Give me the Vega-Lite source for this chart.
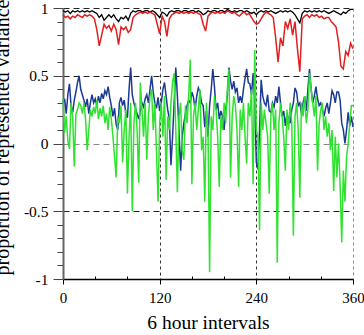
{
"$schema": "https://vega.github.io/schema/vega-lite/v6.json",
"width": 290, "height": 271,
"autosize": "none",
"padding": {"left": 63, "top": 8, "right": 11, "bottom": 56},
"config": {"view": {"stroke": null}, "font": "Liberation Serif"},
"datasets": {
"blue": [
{"x":0,"y":0.30},{"x":2,"y":0.33},{"x":4,"y":0.22},{"x":6,"y":0.36},{"x":8,"y":0.44},{"x":10,"y":0.28},{"x":12,"y":0.23},{"x":14,"y":0.32},{"x":16,"y":0.38},{"x":18,"y":0.45},
{"x":20,"y":0.50},{"x":22,"y":0.40},{"x":24,"y":0.36},{"x":26,"y":0.32},{"x":28,"y":0.27},{"x":30,"y":0.33},{"x":32,"y":0.22},{"x":34,"y":0.30},{"x":36,"y":0.36},{"x":38,"y":0.30},
{"x":40,"y":0.33},{"x":42,"y":0.28},{"x":44,"y":0.35},{"x":46,"y":0.30},{"x":48,"y":0.37},{"x":50,"y":0.33},{"x":52,"y":0.39},{"x":54,"y":0.36},{"x":56,"y":0.42},{"x":58,"y":0.34},
{"x":60,"y":0.28},{"x":62,"y":0.20},{"x":64,"y":0.26},{"x":66,"y":0.14},{"x":68,"y":0.10},{"x":70,"y":0.30},{"x":72,"y":0.34},{"x":74,"y":0.28},{"x":76,"y":0.32},{"x":78,"y":0.22},
{"x":80,"y":0.19},{"x":82,"y":0.40},{"x":84,"y":0.56},{"x":86,"y":0.36},{"x":88,"y":0.30},{"x":90,"y":0.26},{"x":92,"y":0.22},{"x":94,"y":0.18},{"x":96,"y":0.24},{"x":98,"y":0.30},
{"x":100,"y":0.27},{"x":102,"y":0.33},{"x":104,"y":0.36},{"x":106,"y":0.30},{"x":108,"y":0.40},{"x":110,"y":0.50},{"x":112,"y":0.38},{"x":114,"y":0.30},{"x":116,"y":0.26},{"x":118,"y":0.34},
{"x":120,"y":0.24},{"x":122,"y":0.30},{"x":124,"y":0.40},{"x":126,"y":0.45},{"x":128,"y":0.35},{"x":130,"y":0.25},{"x":132,"y":0.18},{"x":134,"y":-0.16},{"x":136,"y":0.05},{"x":138,"y":0.30},
{"x":140,"y":0.56},{"x":142,"y":0.35},{"x":144,"y":0.10},{"x":146,"y":-0.20},{"x":148,"y":0.05},{"x":150,"y":0.15},{"x":152,"y":0.22},{"x":154,"y":0.28},{"x":156,"y":0.32},{"x":158,"y":0.30},
{"x":160,"y":0.38},{"x":162,"y":0.34},{"x":164,"y":0.25},{"x":166,"y":0.35},{"x":168,"y":0.41},{"x":170,"y":0.38},{"x":172,"y":0.30},{"x":174,"y":0.28},{"x":176,"y":0.12},{"x":178,"y":0.24},
{"x":180,"y":0.05},{"x":182,"y":0.28},{"x":184,"y":0.40},{"x":186,"y":0.55},{"x":188,"y":0.42},{"x":190,"y":0.25},{"x":192,"y":0.30},{"x":194,"y":0.18},{"x":196,"y":0.24},{"x":198,"y":0.20},
{"x":200,"y":0.10},{"x":202,"y":0.25},{"x":204,"y":0.35},{"x":206,"y":0.56},{"x":208,"y":0.46},{"x":210,"y":0.40},{"x":212,"y":0.46},{"x":214,"y":0.38},{"x":216,"y":0.41},{"x":218,"y":0.30},
{"x":220,"y":0.35},{"x":222,"y":0.30},{"x":224,"y":0.40},{"x":226,"y":0.48},{"x":228,"y":0.55},{"x":230,"y":0.45},{"x":232,"y":0.44},{"x":234,"y":0.36},{"x":236,"y":0.52},{"x":238,"y":0.30},
{"x":240,"y":-0.14},{"x":242,"y":-0.19},{"x":244,"y":0.10},{"x":246,"y":0.47},{"x":248,"y":0.35},{"x":250,"y":0.30},{"x":252,"y":0.28},{"x":254,"y":0.36},{"x":256,"y":0.24},{"x":258,"y":0.23},
{"x":260,"y":0.30},{"x":262,"y":0.27},{"x":264,"y":0.35},{"x":266,"y":0.30},{"x":268,"y":0.42},{"x":270,"y":0.30},{"x":272,"y":0.20},{"x":274,"y":0.24},{"x":276,"y":0.13},{"x":278,"y":0.22},
{"x":280,"y":0.18},{"x":282,"y":0.15},{"x":284,"y":0.25},{"x":286,"y":0.30},{"x":288,"y":0.41},{"x":290,"y":0.38},{"x":292,"y":0.28},{"x":294,"y":0.30},{"x":296,"y":0.22},{"x":298,"y":0.30},
{"x":300,"y":0.35},{"x":302,"y":0.24},{"x":304,"y":0.40},{"x":306,"y":0.55},{"x":308,"y":0.40},{"x":310,"y":0.30},{"x":312,"y":0.35},{"x":314,"y":0.42},{"x":316,"y":0.33},{"x":318,"y":0.28},
{"x":320,"y":0.30},{"x":322,"y":0.25},{"x":324,"y":0.20},{"x":326,"y":0.26},{"x":328,"y":0.30},{"x":330,"y":0.22},{"x":332,"y":0.30},{"x":334,"y":0.39},{"x":336,"y":0.36},{"x":338,"y":0.30},
{"x":340,"y":0.38},{"x":342,"y":0.38},{"x":344,"y":0.32},{"x":346,"y":0.15},{"x":348,"y":0.10},{"x":350,"y":0.00},{"x":352,"y":0.10},{"x":354,"y":0.23},{"x":356,"y":0.13},{"x":358,"y":0.20},
{"x":360,"y":0.12}
],
"green": [
{"x":0,"y":0.33},{"x":2,"y":0.08},{"x":4,"y":0.20},{"x":6,"y":0.02},{"x":8,"y":-0.04},{"x":10,"y":0.30},{"x":12,"y":0.20},{"x":14,"y":-0.17},{"x":16,"y":0.22},{"x":18,"y":0.25},
{"x":20,"y":0.30},{"x":22,"y":0.28},{"x":24,"y":0.22},{"x":26,"y":0.30},{"x":28,"y":0.18},{"x":30,"y":-0.05},{"x":32,"y":0.10},{"x":34,"y":0.25},{"x":36,"y":0.20},{"x":38,"y":0.27},
{"x":40,"y":0.22},{"x":42,"y":0.32},{"x":44,"y":0.18},{"x":46,"y":0.26},{"x":48,"y":0.20},{"x":50,"y":0.28},{"x":52,"y":0.15},{"x":54,"y":0.22},{"x":56,"y":0.10},{"x":58,"y":0.27},
{"x":60,"y":0.18},{"x":62,"y":0.05},{"x":64,"y":-0.10},{"x":66,"y":-0.25},{"x":68,"y":0.20},{"x":70,"y":0.15},{"x":72,"y":0.28},{"x":74,"y":-0.14},{"x":76,"y":0.10},{"x":78,"y":0.25},
{"x":80,"y":-0.37},{"x":82,"y":0.05},{"x":84,"y":0.30},{"x":86,"y":-0.50},{"x":88,"y":0.15},{"x":90,"y":0.30},{"x":92,"y":0.10},{"x":94,"y":-0.29},{"x":96,"y":0.45},{"x":98,"y":0.25},
{"x":100,"y":0.05},{"x":102,"y":0.30},{"x":104,"y":-0.12},{"x":106,"y":0.20},{"x":108,"y":0.35},{"x":110,"y":0.40},{"x":112,"y":0.10},{"x":114,"y":0.30},{"x":116,"y":-0.05},{"x":118,"y":-0.43},
{"x":120,"y":0.15},{"x":122,"y":0.30},{"x":124,"y":0.05},{"x":126,"y":0.35},{"x":128,"y":-0.27},{"x":130,"y":0.20},{"x":132,"y":0.10},{"x":134,"y":0.30},{"x":136,"y":0.45},{"x":138,"y":0.52},
{"x":140,"y":0.10},{"x":142,"y":-0.36},{"x":144,"y":0.20},{"x":146,"y":0.30},{"x":148,"y":-0.05},{"x":150,"y":-0.12},{"x":152,"y":0.28},{"x":154,"y":0.15},{"x":156,"y":0.35},{"x":158,"y":0.62},
{"x":160,"y":-0.30},{"x":162,"y":0.20},{"x":164,"y":0.30},{"x":166,"y":0.10},{"x":168,"y":0.25},{"x":170,"y":0.40},{"x":172,"y":-0.05},{"x":174,"y":0.05},{"x":176,"y":-0.43},{"x":178,"y":0.30},
{"x":180,"y":0.10},{"x":182,"y":-0.95},{"x":184,"y":0.20},{"x":186,"y":0.10},{"x":188,"y":0.35},{"x":190,"y":0.25},{"x":192,"y":0.05},{"x":194,"y":-0.32},{"x":196,"y":0.20},{"x":198,"y":0.10},
{"x":200,"y":0.30},{"x":202,"y":0.15},{"x":204,"y":0.40},{"x":206,"y":0.55},{"x":208,"y":-0.25},{"x":210,"y":0.20},{"x":212,"y":0.35},{"x":214,"y":0.28},{"x":216,"y":0.10},{"x":218,"y":-0.32},
{"x":220,"y":0.25},{"x":222,"y":0.10},{"x":224,"y":0.30},{"x":226,"y":0.05},{"x":228,"y":-0.15},{"x":230,"y":0.30},{"x":232,"y":0.20},{"x":234,"y":0.40},{"x":236,"y":-0.30},{"x":238,"y":0.69},
{"x":240,"y":0.10},{"x":242,"y":0.05},{"x":244,"y":-0.64},{"x":246,"y":0.30},{"x":248,"y":0.10},{"x":250,"y":0.25},{"x":252,"y":0.15},{"x":254,"y":0.05},{"x":256,"y":-0.37},{"x":258,"y":0.20},
{"x":260,"y":0.30},{"x":262,"y":0.10},{"x":264,"y":0.25},{"x":266,"y":-0.88},{"x":268,"y":0.15},{"x":270,"y":0.30},{"x":272,"y":0.20},{"x":274,"y":0.05},{"x":276,"y":-0.20},{"x":278,"y":0.25},
{"x":280,"y":0.10},{"x":282,"y":0.30},{"x":284,"y":0.15},{"x":286,"y":-0.68},{"x":288,"y":0.20},{"x":290,"y":0.30},{"x":292,"y":0.10},{"x":294,"y":-0.40},{"x":296,"y":0.30},{"x":298,"y":0.20},
{"x":300,"y":0.35},{"x":302,"y":0.15},{"x":304,"y":0.25},{"x":306,"y":0.52},{"x":308,"y":0.40},{"x":310,"y":0.30},{"x":312,"y":0.20},{"x":314,"y":0.35},{"x":316,"y":-0.20},{"x":318,"y":0.15},
{"x":320,"y":0.25},{"x":322,"y":0.30},{"x":324,"y":0.10},{"x":326,"y":0.20},{"x":328,"y":0.05},{"x":330,"y":0.15},{"x":332,"y":-0.05},{"x":334,"y":0.10},{"x":336,"y":-0.35},{"x":338,"y":0.05},
{"x":340,"y":-0.25},{"x":342,"y":0.00},{"x":344,"y":-0.30},{"x":346,"y":-0.73},{"x":348,"y":-0.20},{"x":350,"y":-0.43},{"x":352,"y":-0.10},{"x":354,"y":0.00},{"x":356,"y":0.15},{"x":358,"y":0.28},
{"x":360,"y":0.28}
],
"black": [
{"x":0,"y":0.98},{"x":3,"y":0.97},{"x":6,"y":0.98},{"x":9,"y":0.96},{"x":12,"y":0.98},{"x":15,"y":0.97},{"x":18,"y":0.98},{"x":21,"y":0.97},{"x":24,"y":0.98},{"x":27,"y":0.97},
{"x":30,"y":0.98},{"x":33,"y":0.97},{"x":36,"y":0.98},{"x":39,"y":0.97},{"x":42,"y":0.96},{"x":45,"y":0.93},{"x":48,"y":0.95},{"x":51,"y":0.91},{"x":54,"y":0.93},{"x":57,"y":0.95},
{"x":60,"y":0.93},{"x":63,"y":0.95},{"x":66,"y":0.92},{"x":69,"y":0.90},{"x":72,"y":0.93},{"x":75,"y":0.92},{"x":78,"y":0.94},{"x":81,"y":0.91},{"x":84,"y":0.96},{"x":87,"y":0.98},
{"x":90,"y":0.97},{"x":93,"y":0.98},{"x":96,"y":0.98},{"x":99,"y":0.97},{"x":102,"y":0.98},{"x":105,"y":0.98},{"x":108,"y":0.97},{"x":111,"y":0.98},{"x":114,"y":0.97},{"x":117,"y":0.95},
{"x":120,"y":0.93},{"x":123,"y":0.97},{"x":126,"y":0.96},{"x":129,"y":0.94},{"x":132,"y":0.97},{"x":135,"y":0.98},{"x":138,"y":0.97},{"x":141,"y":0.98},{"x":144,"y":0.98},{"x":147,"y":0.97},
{"x":150,"y":0.98},{"x":153,"y":0.98},{"x":156,"y":0.97},{"x":159,"y":0.98},{"x":162,"y":0.98},{"x":165,"y":0.97},{"x":168,"y":0.98},{"x":171,"y":0.97},{"x":174,"y":0.95},{"x":177,"y":0.96},
{"x":180,"y":0.98},{"x":183,"y":0.97},{"x":186,"y":0.98},{"x":189,"y":0.98},{"x":192,"y":0.97},{"x":195,"y":0.98},{"x":198,"y":0.98},{"x":201,"y":0.97},{"x":204,"y":0.99},{"x":207,"y":0.98},
{"x":210,"y":0.97},{"x":213,"y":0.98},{"x":216,"y":0.97},{"x":219,"y":0.98},{"x":222,"y":0.98},{"x":225,"y":0.97},{"x":228,"y":0.98},{"x":231,"y":0.97},{"x":234,"y":0.96},{"x":237,"y":0.97},
{"x":240,"y":0.95},{"x":243,"y":0.97},{"x":246,"y":0.98},{"x":249,"y":0.97},{"x":252,"y":0.98},{"x":255,"y":0.97},{"x":258,"y":0.98},{"x":261,"y":0.97},{"x":264,"y":0.96},{"x":267,"y":0.97},
{"x":270,"y":0.98},{"x":273,"y":0.97},{"x":276,"y":0.98},{"x":279,"y":0.97},{"x":282,"y":0.98},{"x":285,"y":0.97},{"x":288,"y":0.95},{"x":291,"y":0.92},{"x":294,"y":0.89},{"x":297,"y":0.96},
{"x":300,"y":0.98},{"x":303,"y":0.97},{"x":306,"y":0.98},{"x":309,"y":0.97},{"x":312,"y":0.98},{"x":315,"y":0.97},{"x":318,"y":0.98},{"x":321,"y":0.97},{"x":324,"y":0.98},{"x":327,"y":0.97},
{"x":330,"y":0.96},{"x":333,"y":0.97},{"x":336,"y":0.98},{"x":339,"y":0.97},{"x":342,"y":0.96},{"x":345,"y":0.95},{"x":348,"y":0.97},{"x":351,"y":0.96},{"x":354,"y":0.98},{"x":357,"y":0.99},
{"x":360,"y":0.99}
],
"red": [
{"x":0,"y":0.95},{"x":3,"y":0.93},{"x":6,"y":0.94},{"x":9,"y":0.92},{"x":12,"y":0.94},{"x":15,"y":0.93},{"x":18,"y":0.95},{"x":21,"y":0.94},{"x":24,"y":0.93},{"x":27,"y":0.95},
{"x":30,"y":0.94},{"x":33,"y":0.95},{"x":36,"y":0.94},{"x":39,"y":0.92},{"x":42,"y":0.84},{"x":45,"y":0.72},{"x":48,"y":0.80},{"x":51,"y":0.88},{"x":54,"y":0.85},{"x":57,"y":0.87},
{"x":60,"y":0.83},{"x":63,"y":0.88},{"x":66,"y":0.84},{"x":69,"y":0.73},{"x":72,"y":0.86},{"x":75,"y":0.84},{"x":78,"y":0.86},{"x":81,"y":0.82},{"x":84,"y":0.84},{"x":87,"y":0.93},
{"x":90,"y":0.95},{"x":93,"y":0.96},{"x":96,"y":0.97},{"x":99,"y":0.96},{"x":102,"y":0.97},{"x":105,"y":0.96},{"x":108,"y":0.97},{"x":111,"y":0.96},{"x":114,"y":0.95},{"x":117,"y":0.88},
{"x":120,"y":0.81},{"x":123,"y":0.94},{"x":126,"y":0.90},{"x":129,"y":0.79},{"x":132,"y":0.92},{"x":135,"y":0.95},{"x":138,"y":0.96},{"x":141,"y":0.97},{"x":144,"y":0.96},{"x":147,"y":0.97},
{"x":150,"y":0.96},{"x":153,"y":0.97},{"x":156,"y":0.96},{"x":159,"y":0.97},{"x":162,"y":0.96},{"x":165,"y":0.97},{"x":168,"y":0.96},{"x":171,"y":0.95},{"x":174,"y":0.88},{"x":177,"y":0.83},
{"x":180,"y":0.94},{"x":183,"y":0.96},{"x":186,"y":0.97},{"x":189,"y":0.96},{"x":192,"y":0.97},{"x":195,"y":0.96},{"x":198,"y":0.97},{"x":201,"y":0.96},{"x":204,"y":0.98},{"x":207,"y":0.97},
{"x":210,"y":0.96},{"x":213,"y":0.97},{"x":216,"y":0.95},{"x":219,"y":0.94},{"x":222,"y":0.96},{"x":225,"y":0.97},{"x":228,"y":0.95},{"x":231,"y":0.96},{"x":234,"y":0.93},{"x":237,"y":0.90},
{"x":240,"y":0.88},{"x":243,"y":0.89},{"x":246,"y":0.92},{"x":249,"y":0.95},{"x":252,"y":0.97},{"x":255,"y":0.96},{"x":258,"y":0.95},{"x":261,"y":0.93},{"x":264,"y":0.78},{"x":267,"y":0.60},
{"x":270,"y":0.78},{"x":273,"y":0.72},{"x":276,"y":0.90},{"x":279,"y":0.85},{"x":282,"y":0.92},{"x":285,"y":0.80},{"x":288,"y":0.90},{"x":291,"y":0.70},{"x":294,"y":0.53},{"x":297,"y":0.92},
{"x":300,"y":0.94},{"x":303,"y":0.95},{"x":306,"y":0.93},{"x":309,"y":0.95},{"x":312,"y":0.94},{"x":315,"y":0.95},{"x":318,"y":0.93},{"x":321,"y":0.94},{"x":324,"y":0.92},{"x":327,"y":0.93},
{"x":330,"y":0.93},{"x":333,"y":0.90},{"x":336,"y":0.88},{"x":339,"y":0.86},{"x":342,"y":0.75},{"x":345,"y":0.57},{"x":348,"y":0.55},{"x":351,"y":0.68},{"x":354,"y":0.65},{"x":357,"y":0.74},
{"x":360,"y":0.70}
]
},
"encoding": {
"x": {"field": "x", "type": "quantitative", "scale": {"domain": [0, 360], "nice": false, "zero": false},
 "axis": {"title": "6 hour intervals", "values": [0,40,80,120,160,200,240,280,320,360],
  "labelExpr": "datum.value % 120 == 0 ? datum.value + '' : ''",
  "labelFont": "Liberation Serif", "labelFontSize": 15, "labelColor": "#000", "labelPadding": 6,
  "labelFlush": false, "labelOverlap": false, "labelBaseline": "top",
  "tickSize": {"condition": {"test": "datum.value % 120 == 0", "value": 5}, "value": -3},
  "tickColor": "#000", "tickWidth": 1,
  "domainColor": "#000", "domainWidth": 1.5,
  "grid": true, "gridDash": [3, 3], "gridWidth": 1,
  "gridColor": {"condition": {"test": "datum.value == 360", "value": "#888"}, "value": "#333"},
  "gridOpacity": {"condition": {"test": "datum.value == 120 || datum.value == 240 || datum.value == 360", "value": 1}, "value": 0},
  "titleFont": "Liberation Serif", "titleFontSize": 19.5, "titleFontWeight": "normal", "titleColor": "#000",
  "titleY": 49, "titleBaseline": "alphabetic"}},
"y": {"field": "y", "type": "quantitative", "scale": {"domain": [-1, 1], "nice": false, "zero": false},
 "axis": {"title": "proportion of represented variance",
  "values": [-1,-0.9,-0.8,-0.7,-0.6,-0.5,-0.4,-0.3,-0.2,-0.1,0,0.1,0.2,0.3,0.4,0.5,0.6,0.7,0.8,0.9,1],
  "labelExpr": "abs(datum.value*2 - round(datum.value*2)) < 0.001 ? datum.value + '' : ''",
  "labelFont": "Liberation Serif", "labelFontSize": 15.5, "labelColor": "#000", "labelPadding": 5,
  "labelFlush": false, "labelOverlap": false,
  "tickSize": {"condition": {"test": "abs(datum.value*2 - round(datum.value*2)) < 0.001", "value": 10}, "value": 6},
  "tickColor": "#444", "tickWidth": 1,
  "domainColor": "#666", "domainWidth": 2,
  "grid": true, "gridDash": [6, 4], "gridWidth": 1,
  "gridColor": {"condition": {"test": "datum.value == 0", "value": "#888"}, "value": "#222"},
  "gridOpacity": {"condition": {"test": "datum.value == 0.5 || datum.value == -0.5 || datum.value == 0 || datum.value == 1", "value": 1}, "value": 0},
  "titleFont": "Liberation Serif", "titleFontSize": 20, "titleFontWeight": "normal", "titleColor": "#000",
  "titleX": -54.5, "titleY": 129, "titleAngle": 270, "titleAlign": "center", "titleBaseline": "alphabetic"}}
},
"layer": [
{"data": {"name": "blue"}, "mark": {"type": "line", "color": "#1c3a94", "strokeWidth": 1.5}},
{"data": {"name": "green"}, "mark": {"type": "line", "color": "#2fe22f", "strokeWidth": 1.5}},
{"data": {"name": "black"}, "mark": {"type": "line", "color": "#000000", "strokeWidth": 1.3}},
{"data": {"name": "red"}, "mark": {"type": "line", "color": "#e02020", "strokeWidth": 1.5}}
]
}
